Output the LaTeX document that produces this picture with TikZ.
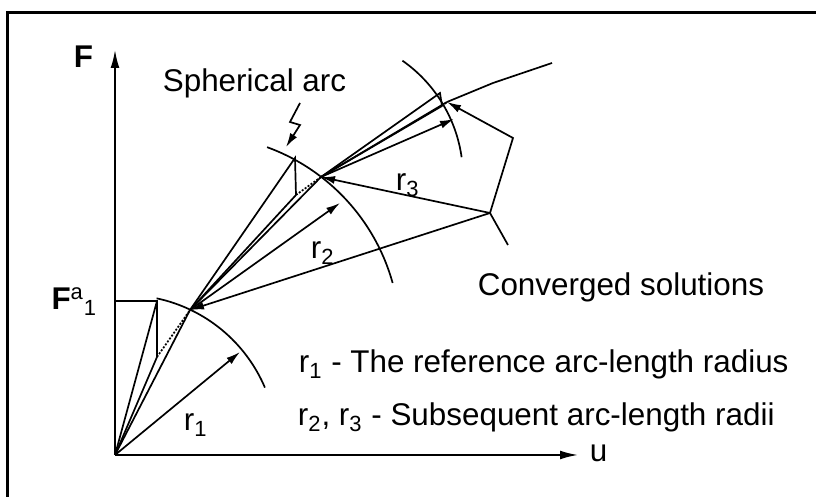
\documentclass[tikz,border=0pt]{standalone}
\usepackage{fontspec}
\setmainfont{Liberation Sans}
\usetikzlibrary{arrows.meta}

\tikzset{
  tip/.style={-{Latex[length=7pt,width=4pt]}},
  axistip/.style={-{Latex[length=9pt,width=4.4pt]}},
  lbl/.style={font=\fontsize{15.7}{18}\selectfont, inner sep=0pt, anchor=base west},
  corr/.style={dash pattern=on 1pt off 0.8pt},
}
\newcommand{\rsub}[1]{r\textsubscript{#1}}

\begin{document}
\begin{tikzpicture}[x=0.5pt,y=0.5pt,line width=0.85pt]
  \useasboundingbox (0,0) rectangle (816,497);
  \draw[line width=1.5pt] (7,0) -- (7,484) -- (816,484);  % frame, cut off right and below
  % axes
  \coordinate (O) at (115,42);
  \coordinate (Ftop) at (115,447);
  \coordinate (uend) at (578,42);
  \draw[axistip] (O) -- (Ftop);
  \draw[axistip] (O) -- (uend);
  \node[lbl] (F) at (73,429) {\bfseries F};
  \node[lbl] (u) at (589,35) {u};
  % first step
  \coordinate (A1) at (157,196);
  \coordinate (B1) at (157,140);
  \coordinate (P1) at (190,187);
  \coordinate (Fa) at (115,196);
  \node[lbl, anchor=base east] (Falbl) at (98,187) {\bfseries F\textsuperscript{\mdseries a}\textsubscript{\mdseries 1}};
  \draw (Fa) -- (A1) -- (B1);
  \draw (O) -- (A1);
  \draw (O) -- (B1);
  \draw (O) -- (P1);
  \draw[corr] (B1) -- (P1);
  \path (125,50) ++(78:152) coordinate (a1s);
  \draw (a1s) arc[start angle=78, end angle=23, radius=152];
  \coordinate (t1) at (240,145);
  \draw[tip] (O) -- (t1);
  \node[lbl] (r1) at (183,66) {\rsub{1}};
  % second step
  \coordinate (A2) at (295,339);
  \coordinate (B2) at (296,302);
  \coordinate (P2) at (321,320);
  \draw (P1) -- (A2) -- (B2);
  \draw (P1) -- (B2);
  \draw (P1) -- (P2);
  \draw[corr] (B2) -- (P2);
  \path (198,160) ++(70:202) coordinate (a2s);
  \draw (a2s) arc[start angle=70, end angle=15.5, radius=202];
  \coordinate (t2) at (340,294);
  \draw[tip] (P1) -- (t2);
  \node[lbl] (r2) at (310,238) {\rsub{2}};
  % third step
  \coordinate (A3) at (440,404);
  \coordinate (B3) at (442,391);
  \coordinate (P3) at (447,395);
  \draw (P2) -- (A3) -- (B3);
  \draw (P2) -- (B3);
  \draw (P2) -- (P3);
  \draw[corr] (B3) -- (P3);
  \path (321,320) ++(55:142) coordinate (a3s);
  \draw (a3s) arc[start angle=55, end angle=8, radius=142];
  \coordinate (t3) at (454,378);
  \draw[tip] (P2) -- (t3);
  \node[lbl] (r3) at (395,306) {\rsub{3}};
  % path beyond
  \coordinate (C1) at (493,414);
  \coordinate (C2) at (552,434);
  \draw (P3) -- (C1) -- (C2);
  % converged solutions pointer
  \coordinate (V) at (490,284);
  \coordinate (K) at (513,359);
  \coordinate (Vleg) at (508,252);
  \draw[tip] (V) -- (P1);
  \draw[tip] (V) -- (P2);
  \draw[tip] (V) -- (K) -- (P3);
  \draw (V) -- (Vleg);
  \node[lbl] (conv) at (477,201) {Converged solutions};
  % spherical arc label
  \node[lbl] (sph) at (162,405) {Spherical arc};
  \coordinate (z1) at (300,394);
  \coordinate (z2) at (290,375);
  \coordinate (z3) at (300,372);
  \coordinate (z4) at (286,350);
  \draw[tip] (z1) -- (z2) -- (z3) -- (z4);
  % legend
  \node[lbl] (leg1) at (298,124) {\rsub{1} - The reference arc-length radius};
  \node[lbl] (leg2) at (297,71) {\rsub{2}, \rsub{3} - Subsequent arc-length radii};
\end{tikzpicture}
\end{document}
